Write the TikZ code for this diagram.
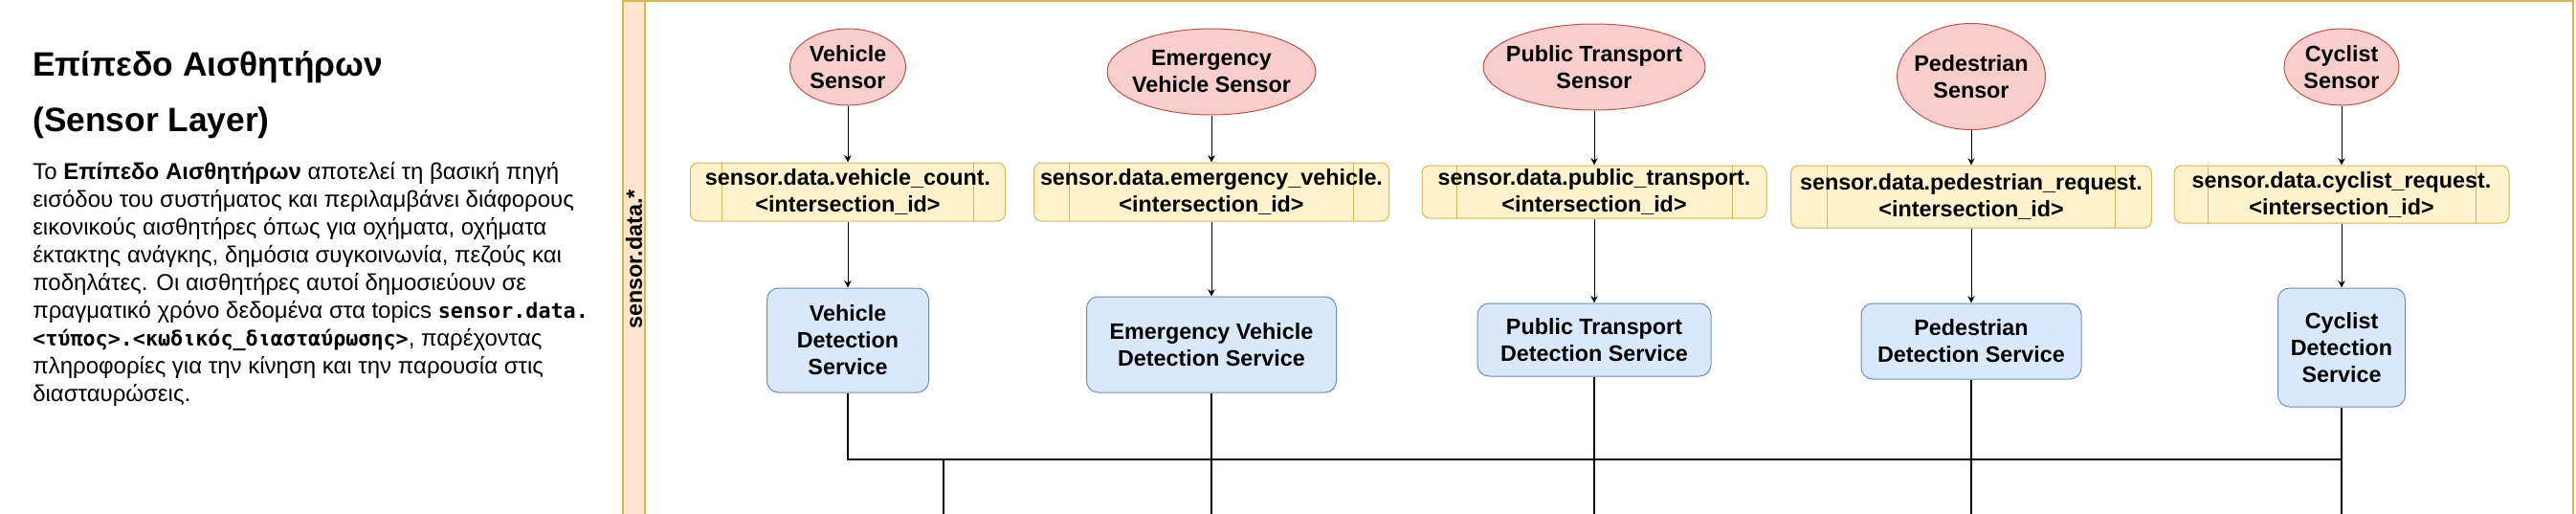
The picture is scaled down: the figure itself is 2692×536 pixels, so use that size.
\documentclass[tikz,border=0pt]{standalone}
\usepackage{fontspec}
\setmainfont{Liberation Sans}
\setmonofont{DejaVu Sans Mono}
\usetikzlibrary{arrows.meta,positioning,calc,shapes.geometric}
\definecolor{sensfill}{HTML}{F8CECC}
\definecolor{sensline}{HTML}{B85450}
\definecolor{topicfill}{HTML}{FFF2CC}
\definecolor{topicline}{HTML}{D6B656}
\definecolor{detfill}{HTML}{DAE8FC}
\definecolor{detline}{HTML}{6C8EBF}
\definecolor{lanefill}{HTML}{FFE6CC}
\newcommand{\topiccode}[1]{{\fontsize{16.3}{21.75}\selectfont\ttfamily\bfseries #1}}

\begin{document}
\begin{tikzpicture}[x=0.75pt,y=-0.75pt,every node/.style={font=\fontsize{17.5}{21}\selectfont\bfseries},
 sens/.style={ellipse,draw=sensline,fill=sensfill,line width=0.75pt,align=center,inner xsep=-12pt,inner ysep=0pt},
 topic/.style={draw=topicline,fill=topicfill,line width=0.75pt,rounded corners=6pt,align=center,inner sep=0pt,
  path picture={\coordinate (pa) at (path picture bounding box.north west);\coordinate (pb) at (path picture bounding box.south east);
   \draw[topicline,line width=0.75pt] ($(pa)!0.1!(pb|-pa)$)--($(pa|-pb)!0.1!(pb)$) ($(pa)!0.9!(pb|-pa)$)--($(pa|-pb)!0.9!(pb)$);}},
 det/.style={draw=detline,fill=detfill,line width=0.75pt,rounded corners=9pt,align=center,inner sep=0pt},
 lane/.style={draw=topicline,line width=0.9pt},
 arr/.style={-{Stealth[length=5.5pt,width=5.5pt]},line width=0.75pt},
 ln/.style={line width=0.9pt}]
\useasboundingbox (0,0) rectangle (2692,536);
\clip (0,0) rectangle (2692,536);
\draw[lane] (651,1) rectangle (2689,560);
\draw[lane,fill=lanefill] (651,1) rectangle (674,560);
\node[rotate=90] (lanelbl) at (662.5,271) {sensor.data.*};
\node[anchor=north west,inner sep=0pt,align=left,font=\fontsize{26.5}{43.5}\selectfont\bfseries] (title) at (34,53) {Επίπεδο Αισθητήρων\\(Sensor Layer)};
\node[anchor=north west,inner sep=0pt,align=left,font=\fontsize{18}{21.75}\selectfont] (desc) at (34,169) {Το \textbf{Επίπεδο Αισθητήρων} αποτελεί τη βασική πηγή\\
 εισόδου του συστήματος και περιλαμβάνει διάφορους\\
 εικονικούς αισθητήρες όπως για οχήματα, οχήματα\\
 έκτακτης ανάγκης, δημόσια συγκοινωνία, πεζούς και\\
 ποδηλάτες. Οι αισθητήρες αυτοί δημοσιεύουν σε\\
 πραγματικό χρόνο δεδομένα στα topics \topiccode{sensor.data.}\\
 \topiccode{<τύπος>.<κωδικός\_διασταύρωσης>}, παρέχοντας\\
 πληροφορίες για την κίνηση και την παρουσία στις\\
 διασταυρώσεις.};
\node[sens,minimum width=90.75pt,minimum height=60pt] (vs) at (886,70) {Vehicle\\Sensor};
\node[sens,minimum width=163.5pt,minimum height=67.5pt] (evs) at (1266,75) {Emergency\\Vehicle Sensor};
\node[sens,minimum width=174pt,minimum height=67.5pt] (pts) at (1666,70) {Public Transport\\Sensor};
\node[sens,minimum width=116.25pt,minimum height=83.25pt] (ps) at (2060,80) {Pedestrian\\Sensor};
\node[sens,minimum width=90pt,minimum height=60pt] (cs) at (2447,70) {Cyclist\\Sensor};
\node[topic,minimum width=246.75pt,minimum height=45.75pt] (t1) at (886,200.5) {sensor.data.vehicle\_count.\\<intersection\_id>};
\node[topic,minimum width=278.25pt,minimum height=45.75pt] (t2) at (1266,200.5) {sensor.data.emergency\_vehicle.\\<intersection\_id>};
\node[topic,minimum width=270pt,minimum height=41.25pt] (t3) at (1666,200.5) {sensor.data.public\_transport.\\<intersection\_id>};
\node[topic,minimum width=282.75pt,minimum height=48.75pt] (t4) at (2060,205.5) {sensor.data.pedestrian\_request.\\<intersection\_id>};
\node[topic,minimum width=262.5pt,minimum height=45pt] (t5) at (2447,203) {sensor.data.cyclist\_request.\\<intersection\_id>};
\node[det,minimum width=126.75pt,minimum height=81.75pt] (d1) at (886,355.5) {Vehicle\\Detection\\Service};
\node[det,minimum width=195.75pt,minimum height=75pt] (d2) at (1266,360) {Emergency Vehicle\\Detection Service};
\node[det,minimum width=183pt,minimum height=57pt] (d3) at (1666,355) {Public Transport\\Detection Service};
\node[det,minimum width=172.5pt,minimum height=59.25pt] (d4) at (2060,356.5) {Pedestrian\\Detection Service};
\node[det,minimum width=99.75pt,minimum height=93pt] (d5) at (2447,363) {Cyclist\\Detection\\Service};
\foreach \s/\t/\d in {vs/t1/d1,evs/t2/d2,pts/t3/d3,ps/t4/d4,cs/t5/d5}
 {\draw[arr] (\s) -- (\t); \draw[arr] (\t) -- (\d);}
\coordinate (bus) at (986,480);
\coordinate (bot) at (0,560);
\draw[ln] (d1) |- (d5.south |- bus);
\draw[ln] (bus) -- (bus |- bot);
\foreach \d in {d2,d3,d4,d5} \draw[ln] (\d) -- (\d |- bot);
\end{tikzpicture}
\end{document}
